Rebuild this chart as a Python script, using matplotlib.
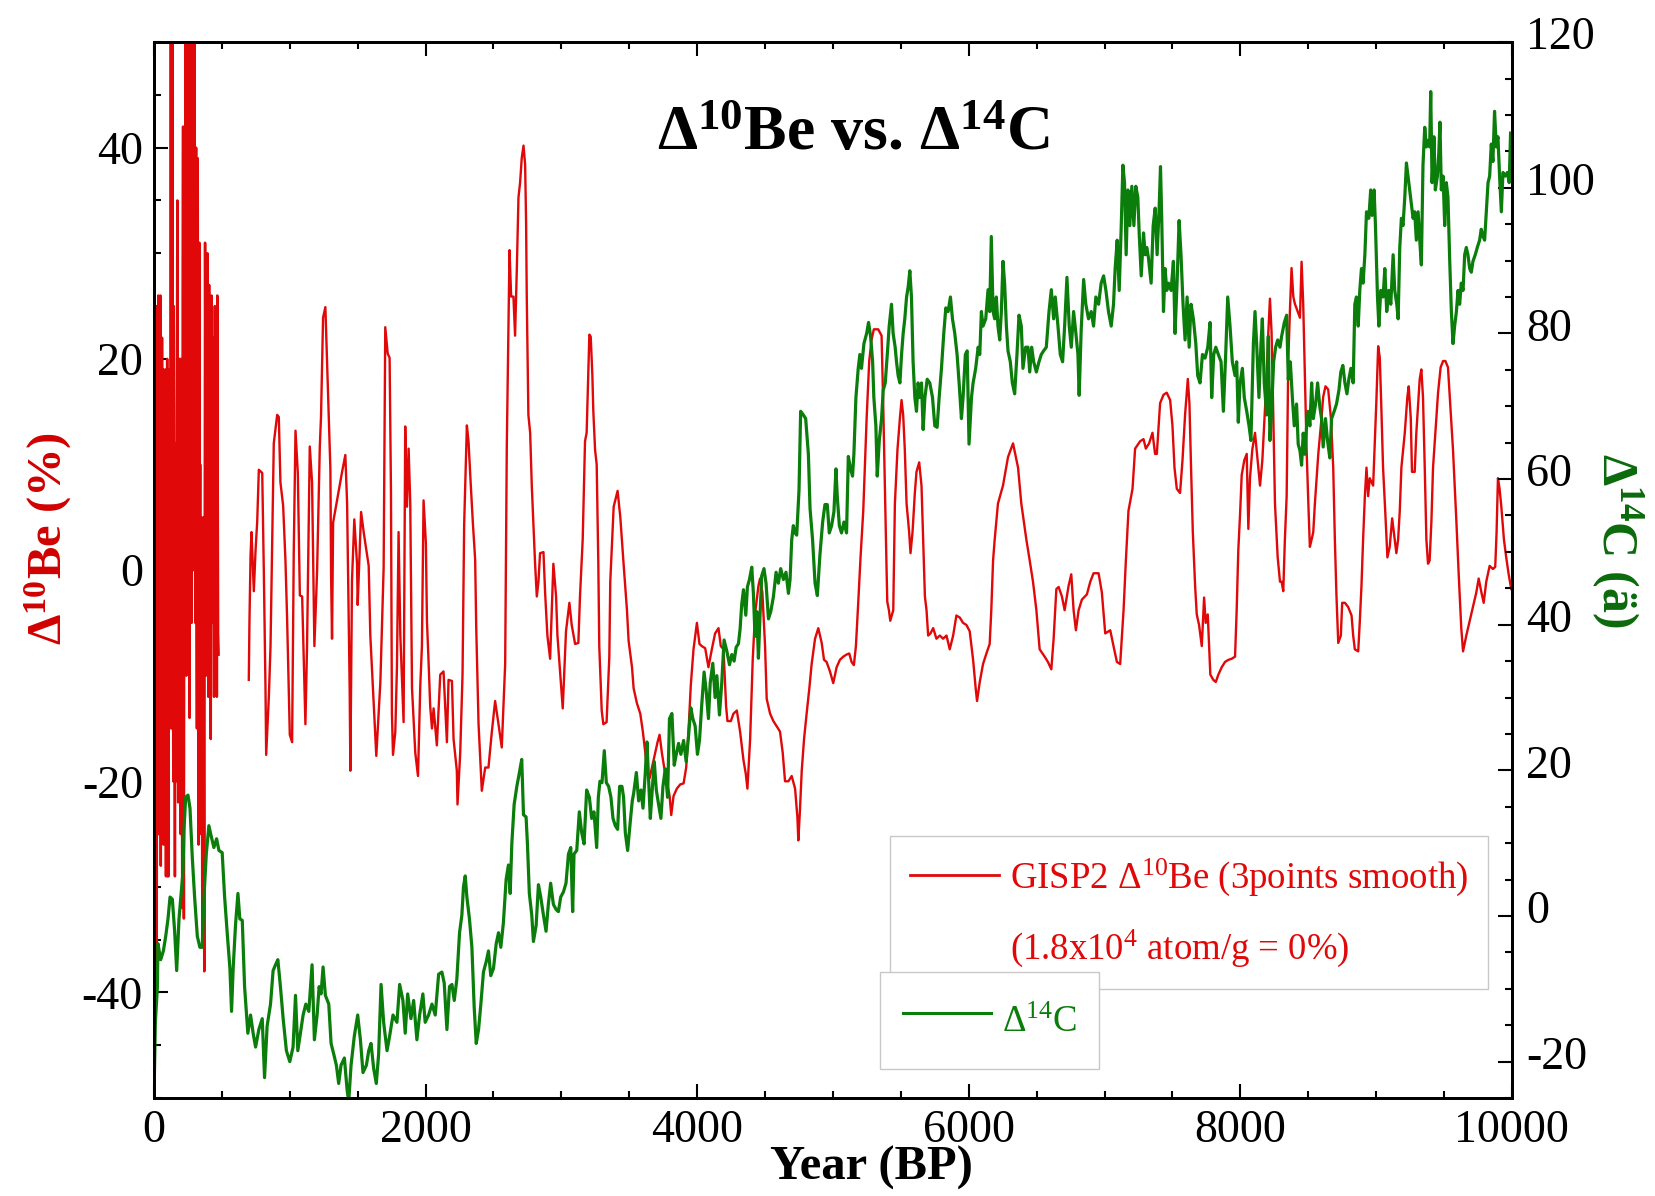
import numpy as np
import matplotlib
matplotlib.use("Agg")
import matplotlib.pyplot as plt
from matplotlib.lines import Line2D
from matplotlib.ticker import MultipleLocator
from matplotlib.transforms import ScaledTranslation

plt.rcParams['font.family'] = ['Liberation Serif', 'DejaVu Serif']
plt.rcParams['mathtext.fontset'] = 'custom'
plt.rcParams['mathtext.rm'] = 'Liberation Serif'
plt.rcParams['mathtext.it'] = 'Liberation Serif:italic'
plt.rcParams['mathtext.bf'] = 'Liberation Serif:bold'
plt.rcParams['axes.unicode_minus'] = False

# ---------------- data ----------------
# GISP2 delta-10Be (%), early dense segment (0-476 yr BP)
be_year_early = [0, 4, 8, 11, 14, 17, 20, 23, 26, 29, 32, 35, 38, 41, 44, 47, 50, 53, 56, 59, 62, 66, 70, 73, 76,
                 79, 82, 85, 88, 91, 94, 97, 100, 103, 106, 109, 112, 115, 118, 121, 124, 127, 130, 133, 136, 139,
                 142, 145, 148, 151, 154, 157, 160, 163, 166, 169, 172, 175, 178, 181, 184, 187, 190, 193, 196, 199,
                 202, 205, 208, 211, 214, 217, 220, 223, 226, 229, 232, 235, 238, 241, 244, 247, 250, 253, 256, 259,
                 262, 265, 268, 271, 274, 277, 280, 283, 286, 289, 292, 295, 298, 301, 304, 307, 310, 313, 316, 319,
                 322, 325, 328, 331, 334, 337, 340, 343, 346, 349, 352, 355, 358, 361, 364, 367, 370, 373, 376, 379,
                 382, 385, 388, 391, 394, 397, 400, 403, 406, 409, 412, 415, 418, 421, 424, 427, 430, 433, 436, 439,
                 442, 445, 448, 451, 454, 457, 460, 463, 466, 469, 472, 476]
be_val_early = [-48, -35, -20, 10, -5, 25, -38, 15, 25, -10, 26, -25, 24, 0, -15, 26, -28, 18, -20, 22, -5, 19, -26, 8, 10,
                -15, 19, -5, -29, 12, -10, 20, -29, 5, -29, 19, 15, -10, 19, -5, 55, -15, 5, 35, 55, -5,
                -20, 25, 15, -10, -29, 10, 12, -20, -5, 20, 35, -10, -22, 10, -2, 20, 8, -20, -25, 20,
                14, -15, -32, 25, 42, -5, -33, 10, 40, 20, 55, 15, -10, 35, 55, -5, 25, 40, 55, 10,
                -14, 30, 48, 20, 55, -5, 10, 40, 55, 0, 20, 45, 55, 15, -5, 25, 40, 0, -15, 30,
                39, -10, -26, 15, 31, -5, 10, -20, -25, 5, -5, -30, -35, -10, 5, -20, -38, 0, 31, 15,
                -10, 10, 28, -5, 30, 10, -12, 5, 27, -3, 15, 0, -16, 10, 26, 5, -5, 10, 22, 0,
                -12, 5, 25, 10, -3, 5, 20, -12, 26, 10, -6, -8]

# GISP2 delta-10Be (%), main segment (698-9995 yr BP)
be_year = [698, 703, 711, 718, 735, 748, 760, 772, 797, 809, 821, 826, 846, 858, 882, 907, 919, 931, 951, 968,
           980, 1000, 1017, 1029, 1042, 1059, 1074, 1091, 1115, 1127, 1147, 1164, 1181, 1201, 1221, 1230, 1245,
           1262, 1275, 1287, 1299, 1304, 1311, 1319, 1348, 1385, 1409, 1422, 1441, 1446, 1458, 1475, 1495, 1500,
           1525, 1544, 1581, 1593, 1630, 1637, 1667, 1691, 1703, 1721, 1735, 1745, 1752, 1760, 1777, 1789, 1801,
           1814, 1838, 1850, 1863, 1875, 1887, 1900, 1924, 1944, 1961, 1973, 1985, 2002, 2010, 2022, 2034, 2047,
           2059, 2083, 2108, 2132, 2157, 2169, 2194, 2206, 2230, 2235, 2255, 2272, 2284, 2304, 2316, 2333, 2348,
           2365, 2373, 2390, 2414, 2439, 2463, 2488, 2512, 2537, 2561, 2586, 2598, 2618, 2630, 2647, 2659, 2672,
           2684, 2696, 2708, 2721, 2733, 2740, 2745, 2757, 2770, 2782, 2794, 2806, 2819, 2831, 2843, 2868, 2880,
           2897, 2917, 2941, 2961, 2971, 2990, 3010, 3034, 3059, 3076, 3101, 3125, 3137, 3157, 3174, 3186, 3206,
           3216, 3228, 3235, 3248, 3260, 3272, 3279, 3297, 3309, 3333, 3353, 3360, 3385, 3414, 3434, 3458, 3483,
           3495, 3520, 3532, 3556, 3581, 3600, 3618, 3630, 3650, 3667, 3691, 3708, 3723, 3740, 3757, 3777, 3797,
           3809, 3826, 3850, 3875, 3900, 3919, 3936, 3953, 3973, 3998, 4017, 4034, 4059, 4083, 4108, 4132, 4157,
           4174, 4194, 4213, 4223, 4248, 4267, 4292, 4316, 4341, 4358, 4370, 4390, 4409, 4426, 4451, 4463, 4480,
           4500, 4512, 4537, 4561, 4586, 4610, 4630, 4647, 4672, 4696, 4721, 4738, 4745, 4757, 4770, 4787, 4806,
           4826, 4843, 4868, 4892, 4917, 4934, 4953, 4978, 5002, 5027, 5051, 5076, 5100, 5120, 5137, 5154, 5169,
           5186, 5203, 5223, 5248, 5267, 5284, 5301, 5333, 5358, 5370, 5382, 5395, 5400, 5412, 5422, 5444, 5456,
           5475, 5493, 5505, 5517, 5529, 5542, 5561, 5571, 5586, 5603, 5615, 5635, 5652, 5664, 5677, 5689, 5701,
           5718, 5738, 5762, 5787, 5811, 5836, 5860, 5885, 5909, 5934, 5958, 5983, 6007, 6032, 6051, 6061, 6081,
           6105, 6130, 6154, 6166, 6179, 6191, 6215, 6252, 6289, 6326, 6363, 6387, 6424, 6449, 6473, 6498, 6522,
           6559, 6583, 6608, 6625, 6645, 6662, 6686, 6706, 6735, 6755, 6772, 6789, 6809, 6833, 6870, 6895, 6919,
           6956, 6980, 7005, 7042, 7066, 7091, 7115, 7140, 7157, 7176, 7206, 7225, 7262, 7287, 7304, 7328, 7353,
           7372, 7385, 7409, 7434, 7458, 7483, 7500, 7515, 7532, 7556, 7574, 7593, 7613, 7625, 7637, 7650, 7667,
           7679, 7696, 7716, 7733, 7745, 7760, 7770, 7779, 7801, 7819, 7838, 7863, 7887, 7912, 7936, 7961, 7973,
           7985, 7998, 8010, 8029, 8047, 8059, 8071, 8088, 8108, 8127, 8145, 8162, 8186, 8206, 8218, 8230, 8243,
           8255, 8275, 8292, 8304, 8316, 8328, 8341, 8353, 8365, 8377, 8390, 8402, 8422, 8439, 8451, 8463, 8475,
           8488, 8500, 8512, 8525, 8537, 8549, 8574, 8593, 8610, 8627, 8647, 8667, 8684, 8696, 8708, 8721, 8740,
           8750, 8770, 8794, 8819, 8831, 8843, 8868, 8880, 8892, 8904, 8917, 8929, 8941, 8953, 8978, 9002, 9015,
           9027, 9039, 9051, 9068, 9083, 9100, 9118, 9137, 9149, 9162, 9174, 9186, 9211, 9230, 9240, 9255, 9264,
           9284, 9296, 9321, 9333, 9345, 9358, 9370, 9382, 9394, 9407, 9419, 9436, 9456, 9475, 9493, 9510, 9529,
           9542, 9566, 9591, 9608, 9627, 9640, 9664, 9689, 9713, 9738, 9755, 9775, 9792, 9811, 9836, 9860, 9877,
           9887, 9897, 9909, 9922, 9941, 9958, 9976, 9995]
be_val = [-10.4, -4.8, 1.4, 3.6, -2.0, 1.9, 4.6, 9.5, 9.2, -0.4, -11.2, -17.5, -11.9, -7.2, 12.0, 14.7, 14.5, 8.3, 6.1, 0.9,
          -4.5, -15.6, -16.3, 1.6, 13.2, 9.2, -2.4, -2.5, -14.6, -7.2, 11.7, 8.3, -7.2, -0.1, 11.7, 14.6, 23.9,
          24.9, 19.5, 14.6, 9.5, -0.4, -6.5, 4.5, 6.6, 9.3, 10.9, 6.3, -11.4, -19.0, -1.0, 4.8, 0.6, -3.3,
          5.5, 3.6, 0.4, -6.2, -15.9, -17.6, -10.6, 0.2, 23.0, 20.5, 20.1, 7.5, -13.6, -17.5, -15.3, -9.2, 3.6,
          -6.2, -14.4, 13.6, 6.0, 11.5, 6.4, -11.2, -17.3, -19.5, -10.9, -7.2, 6.6, 2.6, -4.8, -8.7, -12.9, -15.0,
          -13.1, -16.6, -9.9, -9.6, -16.3, -10.4, -10.5, -16.0, -19.0, -22.2, -17.3, -9.9, 4.3, 13.7, 12.2, 8.0, 4.5,
          1.0, -5.5, -14.6, -20.9, -18.7, -18.7, -15.3, -12.4, -14.6, -16.8, -8.9, 11.7, 30.3, 25.9, 25.9, 22.2, 28.6,
          35.3, 36.7, 39.0, 40.2, 38.4, 33.0, 25.9, 14.7, 13.0, 8.0, 4.3, 0.7, -2.5, -1.1, 1.6, 1.7, -2.1,
          -6.2, -8.4, 0.6, -2.5, -6.2, -9.5, -13.1, -5.8, -3.1, -5.2, -7.0, -6.9, -2.5, 2.9, 12.2, 13.0, 22.3,
          22.1, 18.5, 15.1, 11.4, 10.0, 0.6, -7.2, -13.3, -14.6, -14.4, -8.2, -1.1, 6.0, 7.5, 5.0, 0.6, -3.8,
          -6.7, -9.2, -11.2, -12.6, -13.6, -15.3, -17.3, -19.0, -19.7, -18.7, -17.3, -16.3, -15.6, -17.3, -18.7, -20.0, -21.4,
          -23.2, -21.4, -20.7, -20.3, -20.2, -18.7, -15.3, -10.9, -7.5, -5.0, -7.0, -7.2, -7.4, -9.2, -7.5, -6.0, -5.5,
          -7.2, -7.5, -12.9, -14.3, -14.3, -13.6, -13.3, -15.3, -18.0, -19.3, -20.7, -16.0, -8.5, -4.2, -1.5, -0.8, -2.1,
          -7.2, -12.2, -13.6, -14.3, -14.8, -15.3, -17.3, -20.0, -20.0, -19.5, -20.7, -23.4, -25.6, -22.7, -19.0, -16.0, -13.6,
          -11.2, -8.9, -6.5, -5.5, -6.9, -8.5, -8.7, -9.6, -10.7, -9.2, -8.5, -8.2, -8.0, -7.9, -8.7, -9.0, -7.2,
          -3.1, 1.2, 5.6, 14.4, 19.8, 21.8, 22.8, 22.8, 22.2, 15.7, 8.0, -0.1, -3.0, -3.8, -4.8, -3.8, 6.3,
          11.4, 14.4, 16.1, 14.7, 11.4, 6.3, 3.6, 1.6, 3.6, 7.3, 9.3, 10.2, 8.0, 2.9, -2.5, -3.8, -6.2,
          -6.0, -5.5, -6.5, -6.2, -6.5, -6.2, -7.5, -6.2, -4.3, -4.5, -5.0, -5.2, -5.8, -8.5, -11.2, -12.4, -10.6,
          -8.9, -7.9, -7.0, -3.8, 0.9, 2.9, 6.3, 8.0, 10.7, 12.0, 9.7, 6.3, 2.9, 0.9, -1.1, -3.8, -7.5,
          -8.2, -8.7, -9.4, -6.5, -1.8, -1.6, -2.5, -3.8, -1.5, -0.4, -3.8, -5.7, -3.8, -2.8, -2.3, -1.1, -0.3,
          -0.3, -2.1, -6.0, -5.7, -7.2, -8.7, -8.9, -3.8, 0.9, 5.6, 7.7, 11.5, 12.2, 12.4, 11.5, 12.0, 13.0,
          11.0, 11.0, 15.8, 16.6, 16.8, 16.1, 13.7, 9.7, 7.7, 7.3, 10.4, 14.7, 18.1, 15.8, 9.7, 3.6, -1.5,
          -4.2, -5.2, -7.2, -2.6, -5.0, -4.2, -7.2, -9.9, -10.4, -10.6, -9.9, -9.2, -8.7, -8.5, -8.4, -8.2, -3.8,
          1.9, 5.3, 9.0, 10.4, 11.0, 3.9, 8.7, 11.4, 13.0, 10.4, 8.0, 10.4, 16.4, 22.5, 25.7, 22.5, 14.4,
          6.3, 1.2, -1.1, -1.1, -2.0, 2.9, 7.0, 19.8, 24.5, 28.6, 25.9, 25.2, 24.5, 23.9, 29.2, 25.2, 18.5,
          11.4, 6.6, 2.2, 2.9, 3.6, 6.3, 11.0, 13.7, 16.4, 17.4, 17.1, 14.4, 9.7, 2.9, -2.5, -6.9, -6.2,
          -3.1, -3.1, -3.5, -4.3, -6.2, -7.5, -7.7, -4.8, -1.5, 2.9, 7.0, 9.7, 7.0, 8.7, 8.0, 16.1, 21.2,
          20.1, 15.1, 9.7, 5.3, 1.2, 2.2, 4.9, 2.9, 1.6, 2.9, 5.6, 9.7, 13.0, 16.4, 17.4, 14.4, 9.3,
          9.3, 13.0, 18.1, 19.0, 16.4, 9.7, 2.9, 0.6, 0.9, 4.6, 9.7, 13.0, 16.8, 19.2, 19.8, 19.8, 19.2,
          16.4, 11.4, 4.6, -0.4, -5.5, -7.7, -6.2, -4.8, -3.5, -2.1, -0.8, -2.1, -3.1, -1.1, 0.4, 0.1, 0.3,
          3.6, 8.7, 7.7, 6.0, 2.9, 1.2, -0.4, -1.8]

# delta-14C (permil, right axis)
c14_year = [0, 10, 25, 29, 49, 69, 86, 103, 118, 135, 152, 167, 184, 201, 213, 221, 233, 250, 265, 282,
            299, 319, 338, 355, 368, 385, 404, 422, 441, 461, 478, 502, 520, 539, 559, 571, 583, 600, 618, 632,
            650, 667, 691, 711, 730, 748, 772, 797, 814, 833, 858, 877, 895, 912, 931, 951, 975, 1000, 1024, 1042,
            1059, 1078, 1098, 1118, 1140, 1164, 1181, 1201, 1216, 1230, 1245, 1262, 1287, 1304, 1324, 1343, 1360, 1377, 1402, 1422,
            1434, 1451, 1475, 1500, 1520, 1539, 1564, 1581, 1598, 1618, 1637, 1654, 1672, 1691, 1716, 1735, 1760, 1789, 1809, 1833,
            1850, 1868, 1892, 1912, 1936, 1956, 1980, 1997, 2022, 2047, 2071, 2096, 2120, 2137, 2157, 2176, 2194, 2211, 2230, 2250,
            2267, 2279, 2292, 2304, 2323, 2341, 2358, 2373, 2390, 2407, 2426, 2446, 2463, 2480, 2500, 2520, 2537, 2554, 2573, 2593,
            2610, 2623, 2635, 2652, 2672, 2691, 2708, 2721, 2740, 2750, 2764, 2782, 2794, 2814, 2831, 2848, 2868, 2887, 2904, 2921,
            2941, 2961, 2978, 2995, 3015, 3034, 3052, 3069, 3083, 3093, 3113, 3132, 3150, 3167, 3186, 3206, 3223, 3240, 3260, 3272,
            3284, 3299, 3316, 3331, 3348, 3365, 3380, 3397, 3414, 3429, 3446, 3458, 3471, 3488, 3507, 3522, 3532, 3552, 3569, 3586,
            3601, 3618, 3630, 3643, 3655, 3669, 3684, 3699, 3716, 3733, 3748, 3765, 3782, 3796, 3814, 3831, 3846, 3863, 3880, 3900,
            3919, 3936, 3953, 3968, 3985, 4002, 4017, 4034, 4051, 4066, 4083, 4096, 4115, 4132, 4145, 4164, 4181, 4198, 4218, 4238,
            4255, 4272, 4287, 4304, 4316, 4328, 4341, 4358, 4370, 4385, 4402, 4414, 4426, 4439, 4451, 4463, 4475, 4492, 4507, 4525,
            4542, 4561, 4581, 4598, 4615, 4635, 4654, 4672, 4684, 4696, 4708, 4721, 4733, 4750, 4762, 4782, 4799, 4819, 4831, 4850,
            4868, 4885, 4904, 4924, 4941, 4958, 4973, 4990, 5007, 5022, 5032, 5047, 5063, 5081, 5100, 5113, 5130, 5144, 5154, 5169,
            5186, 5198, 5210, 5228, 5248, 5262, 5277, 5292, 5301, 5316, 5326, 5341, 5358, 5370, 5385, 5400, 5414, 5431, 5443, 5458,
            5468, 5480, 5493, 5505, 5517, 5529, 5542, 5554, 5566, 5578, 5590, 5603, 5615, 5627, 5639, 5652, 5664, 5677, 5694, 5713,
            5733, 5750, 5767, 5782, 5799, 5816, 5831, 5848, 5865, 5880, 5897, 5914, 5929, 5946, 5958, 5975, 5988, 6002, 6020, 6032,
            6051, 6069, 6081, 6093, 6105, 6125, 6142, 6154, 6166, 6179, 6191, 6203, 6215, 6228, 6240, 6252, 6264, 6277, 6289, 6306,
            6321, 6338, 6355, 6370, 6387, 6399, 6419, 6436, 6449, 6463, 6478, 6498, 6517, 6534, 6551, 6571, 6591, 6608, 6625, 6637,
            6657, 6674, 6691, 6706, 6723, 6740, 6755, 6772, 6789, 6804, 6813, 6828, 6846, 6862, 6882, 6902, 6919, 6936, 6956, 6975,
            6993, 7010, 7029, 7049, 7066, 7078, 7093, 7108, 7123, 7135, 7147, 7159, 7172, 7186, 7201, 7216, 7230, 7245, 7255, 7270,
            7287, 7299, 7311, 7323, 7343, 7358, 7373, 7387, 7402, 7412, 7421, 7434, 7446, 7458, 7471, 7490, 7507, 7519, 7534, 7549,
            7563, 7578, 7593, 7608, 7623, 7637, 7654, 7672, 7686, 7703, 7721, 7740, 7760, 7777, 7789, 7804, 7819, 7838, 7858, 7875,
            7892, 7907, 7924, 7941, 7961, 7973, 7985, 7998, 8015, 8029, 8047, 8064, 8078, 8096, 8108, 8120, 8137, 8152, 8162, 8176,
            8194, 8206, 8218, 8230, 8245, 8260, 8275, 8292, 8304, 8324, 8341, 8353, 8368, 8383, 8397, 8414, 8426, 8439, 8451, 8463,
            8475, 8488, 8500, 8512, 8525, 8537, 8554, 8569, 8586, 8598, 8610, 8627, 8642, 8659, 8672, 8691, 8708, 8726, 8740, 8755,
            8770, 8785, 8799, 8814, 8831, 8843, 8855, 8868, 8880, 8892, 8904, 8917, 8929, 8946, 8960, 8970, 8985, 8995, 9010, 9020,
            9034, 9051, 9064, 9078, 9093, 9108, 9125, 9137, 9152, 9162, 9174, 9186, 9198, 9211, 9223, 9235, 9247, 9260, 9272, 9284,
            9296, 9309, 9321, 9333, 9345, 9358, 9370, 9382, 9394, 9402, 9412, 9426, 9436, 9451, 9461, 9470, 9480, 9493, 9505, 9517,
            9529, 9542, 9554, 9566, 9578, 9591, 9603, 9615, 9627, 9640, 9652, 9664, 9676, 9689, 9701, 9713, 9730, 9745, 9762, 9774,
            9787, 9799, 9811, 9824, 9836, 9848, 9860, 9872, 9885, 9897, 9909, 9922, 9934, 9951, 9966, 9980, 9990]
c14_val = [-24.9, -14.6, -9.7, -3.8, -6.0, -4.8, -2.8, -0.4, 2.6, 2.3, -2.1, -7.5, -0.4, 3.3, 6.0, 11.9, 16.3, 16.6, 14.8, 8.0,
           2.6, -2.8, -4.3, -4.3, 2.6, 8.5, 12.4, 10.9, 9.4, 10.6, 9.0, 8.7, 2.6, -2.3, -7.2, -13.1, -7.2, -1.3, 3.1, -0.4,
           -0.6, -9.7, -16.1, -13.6, -16.1, -18.0, -15.6, -14.1, -22.2, -15.1, -12.1, -7.5, -6.7, -6.0, -9.7, -14.1, -18.5, -20.0, -18.0, -10.9,
           -18.5, -16.1, -13.6, -12.1, -13.1, -6.7, -17.0, -13.6, -9.7, -10.7, -7.0, -10.9, -12.1, -17.5, -19.0, -20.5, -23.0, -20.5, -19.5, -23.9,
           -25.5, -20.5, -16.5, -13.6, -17.0, -21.5, -20.5, -18.5, -17.5, -21.0, -23.0, -19.0, -9.4, -14.6, -18.5, -16.5, -13.6, -14.6, -9.4, -11.6,
           -16.1, -10.7, -14.1, -11.6, -17.0, -13.6, -10.7, -14.6, -13.6, -12.1, -13.6, -8.0, -7.7, -9.2, -15.6, -9.7, -9.4, -11.6, -8.7, -2.3,
           0.1, 4.0, 5.5, 2.6, -0.4, -4.3, -12.6, -17.5, -15.6, -12.1, -7.7, -6.3, -4.8, -8.2, -7.2, -3.8, -2.3, -4.3, -0.9, 5.0,
           7.0, 3.1, 9.9, 15.3, 17.8, 19.7, 21.5, 13.9, 13.6, 9.9, 3.1, 0.1, -3.5, -1.3, 4.3, 2.6, 0.1, -2.1, 1.6, 4.5,
           1.6, 0.9, 0.6, 2.6, 3.3, 4.5, 8.5, 9.4, 0.6, 8.5, 9.0, 14.3, 11.4, 9.9, 17.3, 16.3, 13.4, 14.3, 9.4, 16.3,
           18.5, 18.3, 22.7, 18.3, 17.8, 16.3, 13.4, 12.4, 11.9, 17.8, 17.8, 16.3, 11.4, 9.0, 12.9, 15.8, 16.8, 19.7, 15.8, 17.3,
           14.8, 19.7, 23.9, 18.3, 13.4, 17.3, 21.2, 17.3, 15.3, 13.4, 17.8, 20.2, 16.3, 27.1, 27.8, 20.7, 22.2, 23.7, 22.2, 24.1,
           21.2, 24.6, 28.6, 27.1, 26.1, 22.2, 24.1, 29.1, 33.5, 31.0, 27.1, 32.0, 34.7, 30.0, 33.0, 27.6, 32.0, 37.9, 36.4, 34.5,
           35.9, 35.0, 36.9, 37.4, 39.4, 42.8, 44.8, 41.3, 45.2, 46.2, 47.9, 44.3, 38.4, 41.8, 35.4, 41.3, 46.7, 47.7, 45.7, 40.8,
           41.8, 43.8, 47.2, 45.7, 47.7, 46.2, 47.2, 44.3, 46.2, 51.6, 53.6, 52.6, 52.3, 58.5, 69.3, 68.8, 68.3, 63.4, 56.0, 51.6,
           45.7, 44.0, 49.6, 54.1, 56.5, 56.5, 52.6, 53.6, 55.5, 61.4, 57.5, 53.6, 52.6, 54.1, 52.6, 63.1, 61.4, 60.4, 63.4, 71.2,
           75.2, 77.1, 75.2, 78.6, 80.0, 81.5, 79.6, 76.1, 71.2, 67.3, 60.4, 65.3, 68.3, 72.2, 73.2, 77.1, 81.0, 84.0, 80.0, 78.1,
           76.1, 74.2, 73.2, 77.1, 80.0, 82.0, 85.0, 86.4, 88.6, 85.0, 76.1, 71.2, 69.3, 73.2, 71.2, 73.2, 66.8, 71.2, 73.7, 73.2,
           71.2, 67.3, 67.1, 71.2, 75.2, 80.0, 83.5, 83.0, 85.0, 82.0, 80.0, 77.1, 73.2, 68.3, 71.2, 77.1, 77.6, 64.8, 71.2, 73.2,
           75.2, 78.1, 77.1, 83.0, 81.0, 82.0, 86.0, 83.0, 93.3, 83.0, 82.0, 85.0, 81.0, 79.1, 83.0, 89.9, 86.9, 81.0, 77.6, 76.1,
           73.2, 71.7, 77.1, 82.5, 81.0, 75.2, 78.1, 78.1, 74.7, 78.1, 76.1, 74.7, 76.1, 77.1, 77.6, 78.1, 83.0, 86.0, 82.0, 85.0,
           81.0, 77.1, 76.1, 81.0, 87.7, 81.0, 78.1, 83.0, 80.0, 77.1, 71.5, 80.5, 87.4, 84.0, 82.0, 83.0, 81.0, 85.0, 84.0, 86.9,
           87.9, 85.9, 83.0, 81.0, 84.0, 88.9, 92.8, 85.9, 94.8, 103.1, 100.7, 90.8, 99.7, 94.8, 100.2, 94.8, 100.2, 98.7, 93.8, 87.9,
           93.8, 90.8, 91.8, 90.4, 86.9, 94.8, 97.2, 90.8, 97.2, 102.9, 95.8, 83.0, 88.9, 85.9, 86.9, 85.9, 89.9, 80.0, 86.9, 95.5,
           90.8, 84.0, 79.1, 85.0, 78.1, 84.0, 82.0, 78.6, 74.2, 73.2, 77.1, 76.6, 78.1, 81.5, 71.2, 77.1, 78.1, 77.1, 76.1, 69.3,
           77.1, 85.0, 81.0, 76.1, 74.2, 76.1, 67.8, 73.2, 75.2, 71.2, 69.3, 67.3, 65.3, 78.6, 83.0, 78.6, 71.2, 78.6, 82.0, 73.2,
           68.8, 79.6, 65.3, 69.3, 76.1, 78.1, 79.1, 78.1, 79.6, 81.5, 82.5, 73.7, 76.1, 71.2, 67.3, 70.3, 64.8, 63.9, 61.9, 66.3,
           63.4, 67.3, 69.3, 67.3, 73.2, 68.3, 70.3, 73.2, 69.8, 68.3, 64.4, 68.3, 65.3, 62.9, 68.3, 69.3, 70.3, 72.2, 74.7, 75.6,
           73.2, 71.7, 73.7, 75.2, 73.2, 84.0, 85.0, 81.0, 86.0, 88.9, 86.9, 90.8, 96.7, 95.8, 99.7, 96.2, 99.7, 94.8, 85.0, 81.0,
           85.9, 85.0, 88.9, 83.0, 85.9, 84.0, 90.8, 85.9, 84.0, 82.0, 91.8, 95.8, 94.8, 98.7, 103.4, 101.6, 99.7, 97.7, 95.8, 96.7,
           92.8, 96.7, 92.8, 89.4, 103.1, 108.3, 105.6, 106.5, 105.6, 113.2, 100.7, 107.0, 99.7, 101.6, 104.6, 109.0, 99.7, 101.6, 94.8, 100.7,
           98.7, 89.9, 83.0, 78.6, 81.0, 83.0, 85.9, 84.0, 86.9, 85.9, 90.8, 91.8, 90.8, 88.9, 88.4, 89.9, 90.8, 91.8, 92.8, 94.3,
           93.3, 92.8, 96.7, 100.7, 101.6, 106.0, 103.6, 110.5, 105.6, 107.0, 101.6, 96.7, 102.1, 101.6, 102.1, 100.7, 107.5]

title_text = r'Δ$^{\mathbf{10}}$Be vs. Δ$^{\mathbf{14}}$C'
xlabel_text = 'Year (BP)'
ylabel_left = r'Δ$^{\mathbf{10}}$Be (%)'
ylabel_right = r'Δ$^{\mathbf{14}}$C (ä)'
legend_be = [r'GISP2 Δ$^{10}$Be (3points smooth)', r'(1.8x10$^{4}$ atom/g = 0%)']
legend_c14 = r'Δ$^{14}$C'

RED = '#E00808'
GREEN = '#0A7D0A'
RED_LABEL = '#D00000'
GREEN_LABEL = '#0B6A0B'

# ---------------- figure ----------------
fig = plt.figure(figsize=(16.56, 11.96), dpi=100)
ax = fig.add_axes([0.0930, 0.0819, 0.8200, 0.8829])
ax2 = ax.twinx()

ax.plot(be_year_early, be_val_early, color=RED, lw=1.8, zorder=3)
ax.plot(be_year, be_val, color=RED, lw=1.7, zorder=3)
ax2.plot(c14_year, c14_val, color=GREEN, lw=2.3, zorder=2)

ax.set_xlim(0, 10000)
ax.set_ylim(-50, 50)
ax2.set_ylim(-25, 120)

ax.xaxis.set_major_locator(MultipleLocator(2000))
ax.xaxis.set_minor_locator(MultipleLocator(500))
ax.yaxis.set_major_locator(MultipleLocator(20))
ax.yaxis.set_minor_locator(MultipleLocator(5))
ax2.yaxis.set_major_locator(MultipleLocator(20))
ax2.yaxis.set_minor_locator(MultipleLocator(5))

ax.tick_params(axis='both', which='both', direction='in', top=True, right=False, width=1.5)
ax.tick_params(axis='both', which='major', length=10, labelsize=33, pad=8)
ax.tick_params(axis='both', which='minor', length=5)
ax2.tick_params(axis='y', which='both', direction='in', width=1.5)
ax2.tick_params(axis='y', which='major', length=10, labelsize=33, pad=10)
ax2.tick_params(axis='y', which='minor', length=5)

for a in (ax, ax2):
    for s in a.spines.values():
        s.set_linewidth(2.0)
        s.set_color('black')

# right-axis tick labels sit slightly above their ticks in the original
fig.canvas.draw()
shift_up = ScaledTranslation(0, 0.09, fig.dpi_scale_trans)
for lab in ax2.get_yticklabels():
    lab.set_transform(lab.get_transform() + shift_up)

# labels
ax.set_xlabel(xlabel_text, fontsize=35, fontweight='bold')
ax.xaxis.label.set(ha='center', va='center')
ax.xaxis.set_label_coords(0.528, -0.066)

ax.set_ylabel(ylabel_left, fontsize=35, fontweight='bold', color=RED_LABEL)
ax.yaxis.label.set(ha='center', va='center', rotation_mode='default')
ax.yaxis.set_label_coords(-0.078, 0.53)

ax2.set_ylabel(ylabel_right, fontsize=36, fontweight='bold', color=GREEN_LABEL, rotation=270)
ax2.yaxis.label.set(ha='center', va='center', rotation_mode='default')
ax2.yaxis.set_label_coords(1.077, 0.528)

ax.text(0.515, 0.912, title_text, transform=ax.transAxes, ha='center', va='center',
        fontsize=46, fontweight='bold', zorder=6)

# legends
h1 = Line2D([], [], color=RED, lw=2)
h1b = Line2D([], [], color='none', lw=0)
leg1 = ax2.legend([h1, h1b], legend_be, loc='upper left', bbox_to_anchor=(0.542, 0.248),
                  bbox_transform=ax.transAxes, borderaxespad=0, frameon=True, fancybox=False,
                  edgecolor='#c8c8c8', framealpha=1, fontsize=26.5, handlelength=2.4,
                  handletextpad=0.3, borderpad=0.55, labelspacing=0.8)
leg1.get_frame().set_linewidth(1.0)
for t in leg1.get_texts():
    t.set_color(RED)
ax2.add_artist(leg1)

h2 = Line2D([], [], color=GREEN, lw=2.2)
leg2 = ax2.legend([h2], [legend_c14], loc='upper left', bbox_to_anchor=(0.535, 0.119),
                  bbox_transform=ax.transAxes, borderaxespad=0, frameon=True, fancybox=False,
                  edgecolor='#c8c8c8', framealpha=1, fontsize=26.5, handlelength=2.4,
                  handletextpad=0.3, borderpad=0.6, handleheight=1.8)
leg2.get_frame().set_linewidth(1.0)
leg2.set_zorder(7)
for t in leg2.get_texts():
    t.set_color(GREEN)

fig.savefig('out.png', dpi=100)
